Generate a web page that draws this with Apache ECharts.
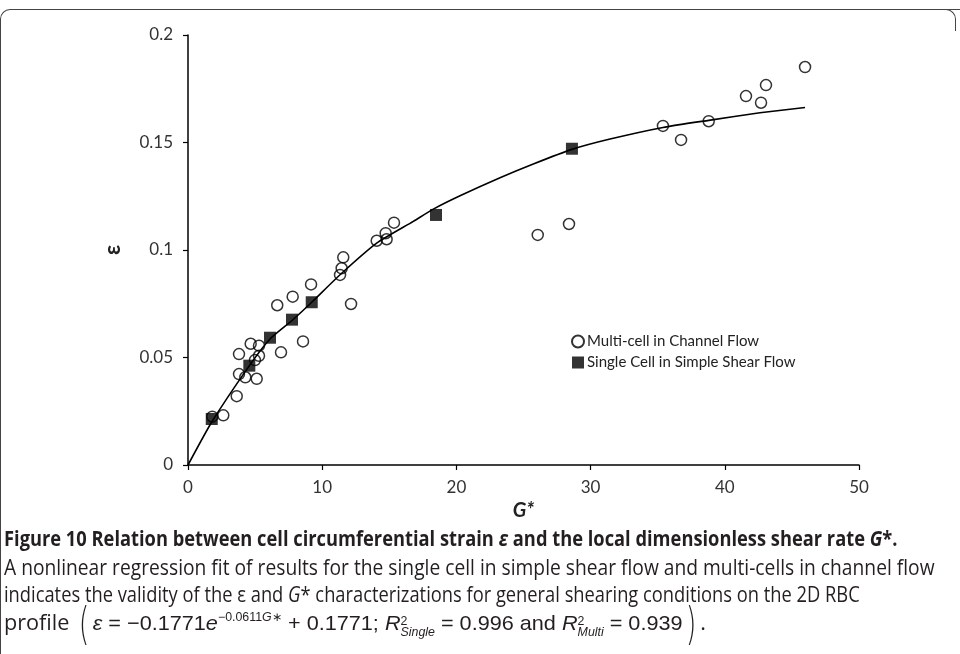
<!DOCTYPE html>
<html><head><meta charset="utf-8">
<script src="https://cdn.jsdelivr.net/npm/echarts@6/dist/echarts.min.js"></script>
<style>
html,body{margin:0;padding:0;background:#fff;}
#wrap{position:relative;width:960px;height:654px;overflow:hidden;background:#fff;}
#chart{position:absolute;left:0;top:0;width:960px;height:654px;}
.cap{position:absolute;left:4px;white-space:nowrap;font-family:"Liberation Sans Narrow","Open Sans",sans-serif;font-size:21px;color:#231f20;transform-origin:0 50%;line-height:24px;}
.cap b{font-weight:bold;}
.frame{position:absolute;left:0;top:9px;width:960px;height:660px;border-left:1.5px solid #444;border-top:1.5px solid #444;border-top-left-radius:10px;box-sizing:border-box;}
.corner{position:absolute;left:944px;top:9px;width:12px;height:22px;border-right:1.5px solid #444;border-top:1.5px solid #444;border-top-right-radius:10px;box-sizing:border-box;background:#fff;}
.big{font-size:44px;font-weight:100;vertical-align:-9px;line-height:24px;font-family:"DejaVu Sans","Liberation Sans",sans-serif;transform:scaleX(0.6);display:inline-block;}
.ss{display:inline-block;vertical-align:-6px;line-height:11px;font-size:12px;text-align:left;}
.ss span{display:block;}
.math{font-family:"Liberation Sans","Arial",sans-serif;}
sup{font-size:12px;vertical-align:9px;line-height:0;}
</style></head>
<body>
<div id="wrap">
<div id="chart"></div>
<div class="frame"></div>
<div class="corner"></div>
<div class="cap" id="l1" style="top:526px;"><b>Figure 10 Relation between cell circumferential strain <i>ε</i> and the local dimensionless shear rate <i>G</i>*.</b></div>
<div class="cap" id="l2" style="top:555px;">A nonlinear regression fit of results for the single cell in simple shear flow and multi-cells in channel flow</div>
<div class="cap" id="l3" style="top:582px;">indicates the validity of the ε and <i>G</i>* characterizations for general shearing conditions on the 2D RBC</div>
<div class="cap" id="l4" style="top:610px;">profile <span class="big">(</span><span class="math"><i>ε</i> = −0.1771<i>e</i><sup>−0.0611<i>G</i>∗</sup> + 0.1771; <i>R</i><span class="ss"><span>2</span><span><i>Single</i></span></span> = 0.996 and <i>R</i><span class="ss"><span>2</span><span><i>Multi</i></span></span> = 0.939</span><span class="big">)</span>.</div>
</div>
<script>
// ---- data ----
const multiG   = [1.81, 2.63, 3.63, 3.80, 4.27, 5.12, 4.99, 5.29, 3.80, 4.67, 5.29, 6.93, 8.57, 6.65, 7.80, 9.17, 12.15, 11.33, 11.45, 11.57, 14.06, 14.80, 14.73, 15.35, 26.06, 28.39, 35.39, 36.74, 38.80, 41.58, 42.70, 43.07, 45.98];
const multiEps = [0.0225, 0.0231, 0.0320, 0.0423, 0.0408, 0.0401, 0.0488, 0.0508, 0.0516, 0.0564, 0.0555, 0.0524, 0.0575, 0.0743, 0.0783, 0.0840, 0.0749, 0.0884, 0.0915, 0.0966, 0.1043, 0.1050, 0.1078, 0.1127, 0.1070, 0.1121, 0.1577, 0.1512, 0.1599, 0.1716, 0.1685, 0.1767, 0.1851];
const singleG   = [1.77, 4.57, 6.11, 7.75, 9.22, 18.48, 28.61];
const singleEps = [0.0214, 0.0462, 0.0592, 0.0676, 0.0757, 0.1163, 0.1471];
const fitG   = [0, 1.77, 4.55, 6.11, 7.75, 9.22, 11.33, 14.06, 16.79, 18.28, 20.27, 23.25, 25.73, 28.61, 31.45, 35.39, 38.80, 42.62, 45.98];
const fitEps = [0, 0.0200, 0.0460, 0.0586, 0.0672, 0.0757, 0.0885, 0.1032, 0.1133, 0.1190, 0.1252, 0.1336, 0.1400, 0.1468, 0.1516, 0.1570, 0.1603, 0.1638, 0.1663];
const xTicks = [0, 10, 20, 30, 40, 50];
const yTicks = [0, 0.05, 0.1, 0.15, 0.2];
const seriesNames = ['Multi-cell in Channel Flow', 'Single Cell in Simple Shear Flow'];

const chart = echarts.init(document.getElementById('chart'), null, {renderer: 'canvas'});
const lblFont = 'Lato, "Open Sans", sans-serif';
chart.setOption({
  animation: false,
  backgroundColor: 'transparent',
  grid: {left: 188, right: 101, top: 35, bottom: 189, containLabel: false},
  legend: {
    orient: 'vertical', left: 566, top: 329, itemWidth: 12, itemHeight: 12, itemGap: 6,
    textStyle: {fontFamily: lblFont, fontSize: 15, color: '#222', padding: [0, 0, 0, -2]},
    data: [{name: seriesNames[0], icon: 'circle'}, {name: seriesNames[1], icon: 'rect'}]
  },
  xAxis: {
    type: 'value', min: xTicks[0], max: xTicks[xTicks.length - 1], interval: 10,
    name: 'G*', nameLocation: 'middle', nameGap: 36,
    nameTextStyle: {fontFamily: lblFont, fontSize: 20, fontWeight: 'bold', fontStyle: 'italic', color: '#222'},
    axisLine: {lineStyle: {color: '#000', width: 1.5}},
    axisTick: {show: true, length: 5, lineStyle: {color: '#000', width: 1.2}},
    axisLabel: {fontFamily: lblFont, fontSize: 17, color: '#333', margin: 14},
    splitLine: {show: false}
  },
  yAxis: {
    type: 'value', min: yTicks[0], max: yTicks[yTicks.length - 1], interval: 0.05,
    name: 'ε', nameLocation: 'middle', nameGap: 64,
    nameTextStyle: {fontFamily: lblFont, fontSize: 22, fontWeight: 'bold', color: '#222'},
    axisLine: {show: true, lineStyle: {color: '#000', width: 1.5}},
    axisTick: {show: true, length: 5, lineStyle: {color: '#000', width: 1.2}},
    axisLabel: {fontFamily: lblFont, fontSize: 17, color: '#333', margin: 15},
    splitLine: {show: false}
  },
  series: [
    {
      name: 'fit', type: 'line', smooth: 0.2, showSymbol: false, symbol: 'none', z: 2,
      lineStyle: {color: '#000', width: 1.6},
      data: fitG.map((g, i) => [g, fitEps[i]])
    },
    {
      name: seriesNames[0], type: 'scatter', symbol: 'circle', symbolSize: 11, z: 3,
      itemStyle: {color: 'rgba(255,255,255,0)', borderColor: '#000', borderWidth: 1.5},
      data: multiG.map((g, i) => [g, multiEps[i]])
    },
    {
      name: seriesNames[1], type: 'scatter', symbol: 'rect', symbolSize: 12, z: 4,
      itemStyle: {color: '#000'},
      data: singleG.map((g, i) => [g, singleEps[i]])
    }
  ]
});

// fit caption lines to their widths in the reference
const targets = {l1: 894, l2: 931, l3: 856, l4: 702};
Object.keys(targets).forEach(id => {
  const el = document.getElementById(id);
  const w = el.scrollWidth;
  if (w > 0) el.style.transform = 'scaleX(' + (targets[id] / w).toFixed(4) + ')';
});
</script>
</body></html>
